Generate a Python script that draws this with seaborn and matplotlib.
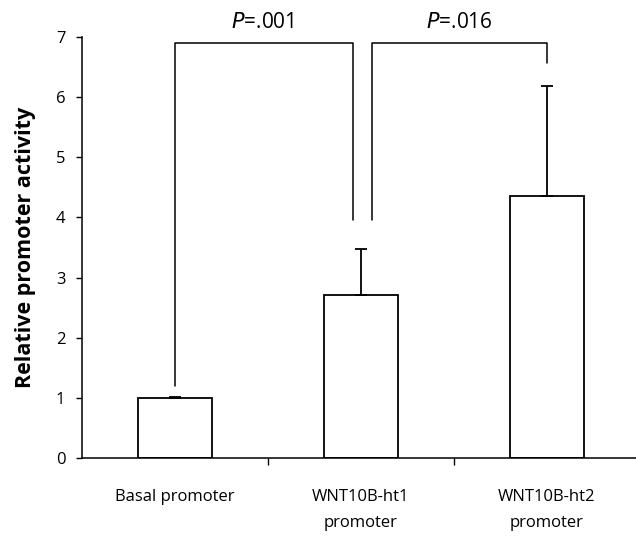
import matplotlib
matplotlib.use("Agg")
import matplotlib.pyplot as plt
import seaborn as sns
import pandas as pd
import numpy as np

categories = ["Basal promoter", "WNT10B-ht1\npromoter", "WNT10B-ht2\npromoter"]
values = [1.0, 2.71, 4.36]
errors = [0.02, 0.76, 1.83]
p_labels = ["=.001", "=.016"]

sns.set_theme(style="white")
plt.rcParams['font.family'] = ['Open Sans', 'DejaVu Sans']
plt.rcParams['text.color'] = 'black'
plt.rcParams['axes.labelcolor'] = 'black'
plt.rcParams['xtick.color'] = 'black'
plt.rcParams['ytick.color'] = 'black'

df = pd.DataFrame({"cat": categories, "val": values})

fig = plt.figure(figsize=(6.36, 5.36), dpi=100)
ax = fig.add_axes([0.129, 0.1455, 0.871, 0.7855])

sns.barplot(data=df, x="cat", y="val", ax=ax, color="white", edgecolor="black",
            linewidth=1.3, width=0.40, errorbar=None)
x = np.arange(len(categories))
ax.errorbar(x, values, yerr=[np.zeros(len(errors)), errors], fmt="none",
            ecolor="black", elinewidth=1.3, capsize=4, capthick=1.3)

ax.set_ylim(0, 7)
ax.set_xlim(-0.5, 2.48)
ax.set_yticks(range(0, 8))
ax.set_xlabel("")
ax.set_ylabel("Relative promoter activity", fontsize=15.5, fontweight="bold", labelpad=14)
for s in ["top", "right"]:
    ax.spines[s].set_visible(False)
for s in ["left", "bottom"]:
    ax.spines[s].set_color("black")
    ax.spines[s].set_linewidth(1.1)

ax.tick_params(axis="y", direction="out", left=True, length=4, width=1, labelsize=12, colors="black", pad=8)
ax.tick_params(axis="x", which="major", length=0, labelsize=12, pad=22, colors="black")
ax.set_xticks([0.5, 1.5], minor=True)
ax.tick_params(axis="x", which="minor", bottom=True, direction="out", length=5, width=1, colors="black")
for lab in ax.get_xticklabels():
    lab.set_linespacing(1.85)

# significance brackets
top = 6.9
ax.plot([0, 0, 0.96, 0.96], [1.2, top, top, 3.95], color="black", lw=1.1, clip_on=False)
ax.plot([1.06, 1.06, 2.0, 2.0], [3.95, top, top, 6.57], color="black", lw=1.1, clip_on=False)
ax.text(0.47, 7.07, r"$\it{P}$" + p_labels[0], ha="center", va="bottom", fontsize=15)
ax.text(1.53, 7.07, r"$\it{P}$" + p_labels[1], ha="center", va="bottom", fontsize=15)

fig.savefig("out.png", dpi=100)
